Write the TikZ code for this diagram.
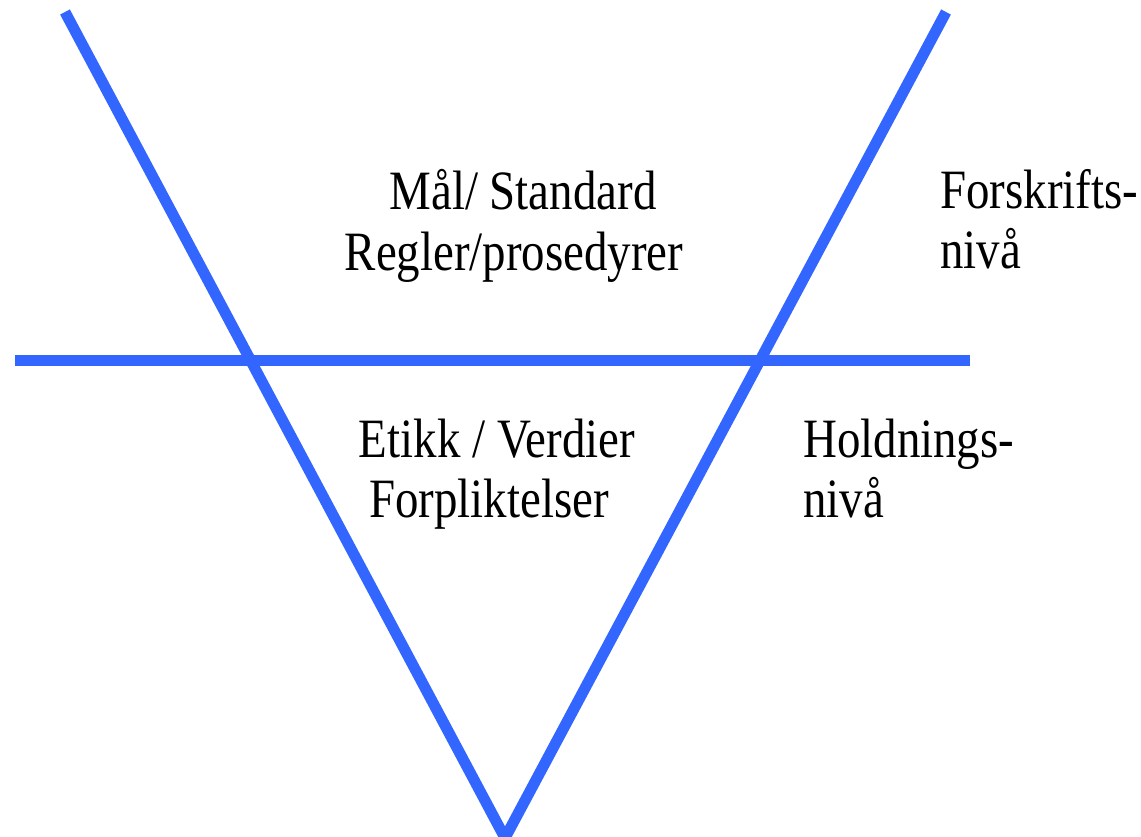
\documentclass[tikz,border=0pt]{standalone}
\usepackage{fontspec}
\setmainfont{Liberation Serif}[FakeStretch=0.845]
\definecolor{vblue}{HTML}{3366FF}
\begin{document}
\begin{tikzpicture}[x=1pt,y=-1pt,
  bar/.style={draw=vblue,line width=11pt,line cap=butt},
  lbl/.style={inner sep=0pt,font=\fontsize{55.5}{61}\selectfont,text=black}]
\useasboundingbox (0,0) rectangle (1141,836);
\coordinate (tl) at (65,12);
\coordinate (tr) at (946,12);
\coordinate (bot) at (505,838);
\coordinate (hl) at (15,360);
\coordinate (hr) at (970,360);
\draw[bar] (tl) -- (bot);
\draw[bar] (tr) -- (bot);
\draw[bar] (hl) -- (hr);
\node[lbl,anchor=base] (mal) at (523,209) {Mål/ Standard};
\node[lbl,anchor=base] (regler) at (514,270) {Regler/prosedyrer};
\node[lbl,anchor=base west] (forskr) at (940,208) {Forskrifts-};
\node[lbl,anchor=base west] (niva1) at (940,268) {nivå};
\node[lbl,anchor=base] (etikk) at (497,457) {Etikk / Verdier};
\node[lbl,anchor=base] (forpl) at (489,517) {Forpliktelser};
\node[lbl,anchor=base west] (hold) at (803,457) {Holdnings-};
\node[lbl,anchor=base west] (niva2) at (803,517) {nivå};
\end{tikzpicture}
\end{document}
